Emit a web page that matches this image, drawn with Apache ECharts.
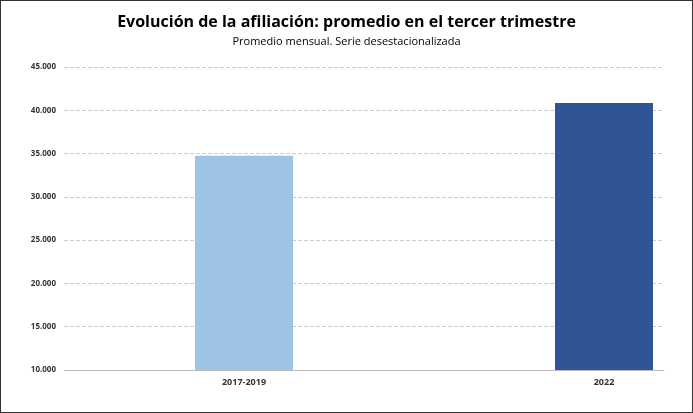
<!DOCTYPE html><html><head><meta charset="utf-8">
<script src="https://cdn.jsdelivr.net/npm/echarts@6/dist/echarts.min.js"></script>
<style>html,body{margin:0;padding:0;background:#fff}#c{width:691px;height:411px;border:1px solid #333}</style></head><body><div id="c"></div><script>
const categories=['','2017-2019','','','2022'];
const values=[null,34750,null,null,40850];
const colors=['#9DC3E6','#9DC3E6','#9DC3E6','#9DC3E6','#2F5597'];
const chart=echarts.init(document.getElementById('c'));
chart.setOption({
title:{text:'Evolución de la afiliación: promedio en el tercer trimestre',subtext:'Promedio mensual. Serie desestacionalizada',left:'center',top:8,itemGap:6,
textStyle:{fontFamily:'Open Sans',fontSize:16,fontWeight:'bold',color:'#000'},subtextStyle:{fontFamily:'Open Sans',fontSize:11,color:'#000'}},
grid:{left:63,right:28,top:66,bottom:42},
xAxis:{type:'category',data:categories,axisTick:{show:false},axisLine:{lineStyle:{color:'#bbb'}},axisLabel:{interval:0,color:'#333',fontSize:9,fontWeight:'bold',fontFamily:'Open Sans'}},
yAxis:{type:'value',min:10000,max:45000,interval:5000,axisLine:{show:false},axisTick:{show:false},
axisLabel:{color:'#333',fontSize:8,fontWeight:'bold',fontFamily:'Open Sans',formatter:v=>v.toLocaleString('de-DE',{minimumFractionDigits:3}).replace(',000','')==v?v:(v/1000).toFixed(3)},
splitLine:{lineStyle:{color:'#ccc',type:'dashed'}}},
series:[{type:'bar',data:values.map((v,i)=>({value:v,itemStyle:{color:colors[i]}})),barWidth:98}]
});
</script></body></html>
